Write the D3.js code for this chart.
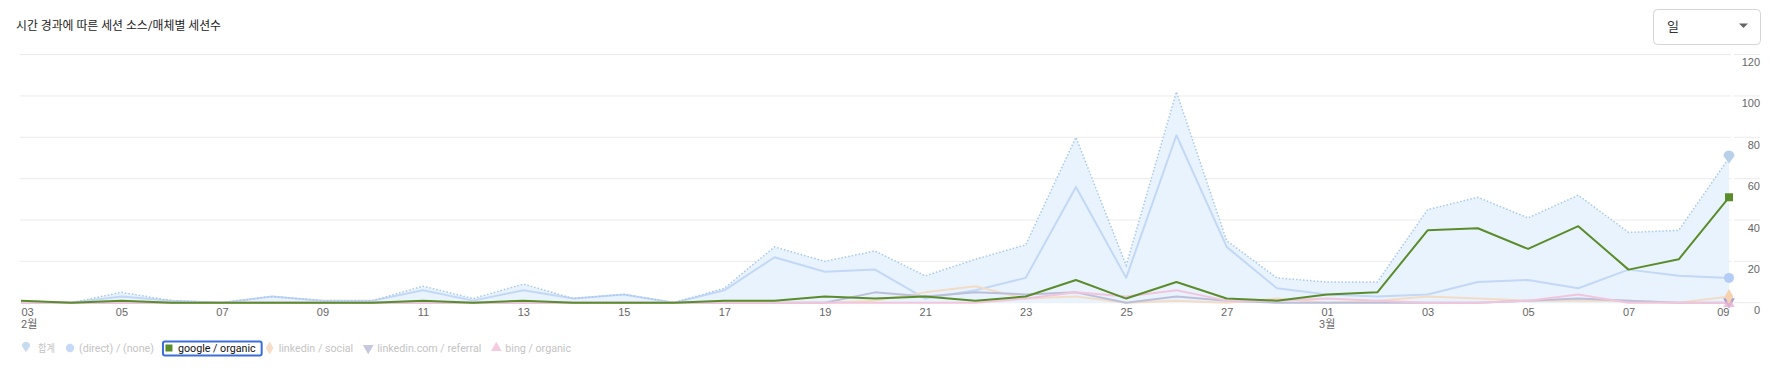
<!DOCTYPE html>
<html>
<head>
<meta charset="utf-8">
<script src="https://d3js.org/d3.v7.min.js"></script>
<style>
  body { margin: 0; background: #fff; }
  svg { display: block; font-family: Roboto, "Noto Sans CJK KR", sans-serif; }
</style>
</head>
<body>
<script>
// dates (Feb 3 - Mar 9)
var days = ["2023-02-03","2023-02-04","2023-02-05","2023-02-06","2023-02-07","2023-02-08","2023-02-09",
  "2023-02-10","2023-02-11","2023-02-12","2023-02-13","2023-02-14","2023-02-15","2023-02-16",
  "2023-02-17","2023-02-18","2023-02-19","2023-02-20","2023-02-21","2023-02-22","2023-02-23",
  "2023-02-24","2023-02-25","2023-02-26","2023-02-27","2023-02-28","2023-03-01","2023-03-02",
  "2023-03-03","2023-03-04","2023-03-05","2023-03-06","2023-03-07","2023-03-08","2023-03-09"];

// sessions per day
var total    = [1,0,5,1,0,3,1,1,8,2,9,2,4,0,7,27,20,25,13,21,28,80,18,102,30,12,10,10,45,51,41,52,34,35,70];
var direct   = [0,0,3,1,0,3,1,1,6,1,6,2,4,0,6,22,15,16,2,6,12,56,12,81,27,7,4,3,4,10,11,7,16,13,12];
var google   = [1,0,1,0,0,0,0,0,1,0,1,0,0,0,1,1,3,2,3,1,3,11,2,10,2,1,4,5,35,36,26,37,16,21,51];
var social   = [0,0,0,0,0,0,0,0,0,0,0,0,0,0,0,0,0,1,5,8,2,3,0,1,0,2,0,1,3,2,1,1,1,0,3];
var referral = [0,0,0,0,0,0,0,0,0,0,0,0,0,0,0,0,0,5,3,5,4,5,0,3,1,0,0,0,0,0,1,2,1,0,0];
var bing     = [0,0,0,0,0,0,0,0,0,0,0,0,0,0,0,0,0,0,0,0,2,5,3,6,1,1,2,1,0,0,1,4,0,0,0];

var yTicks = [0, 20, 40, 60, 80, 100, 120];
var legendNames = ["합계", "(direct) / (none)", "google / organic", "linkedin / social", "linkedin.com / referral", "bing / organic"];

var w = 1779, h = 368;
var parse = d3.timeParse("%Y-%m-%d");
var dates = days.map(parse);

var x = d3.scaleTime()
  .domain([dates[0], dates[dates.length - 1]])
  .range([21, 1729]);

var y = d3.scaleLinear()
  .domain([0, 120])
  .range([302.7, 54.6]);

var svg = d3.select("body").append("svg")
  .attr("width", w)
  .attr("height", h);

// title
svg.append("text")
  .attr("x", 16)
  .attr("y", 30)
  .attr("font-size", 12)
  .attr("fill", "#222")
  .attr("textLength", 205)
  .attr("lengthAdjust", "spacingAndGlyphs")
  .text("시간 경과에 따른 세션 소스/매체별 세션수");

// dropdown
var dd = svg.append("g");
dd.append("rect")
  .attr("x", 1653.5).attr("y", 9.5)
  .attr("width", 107).attr("height", 35)
  .attr("rx", 4)
  .attr("fill", "#fff")
  .attr("stroke", "#d5d5d5");
dd.append("text")
  .attr("x", 1667).attr("y", 31)
  .attr("font-size", 13)
  .attr("fill", "#333")
  .text("일");
dd.append("path")
  .attr("d", "M1739,23.5 L1748,23.5 L1743.5,28 Z")
  .attr("fill", "#666");

// gridlines
svg.append("g").selectAll("line")
  .data(yTicks)
  .enter().append("line")
    .attr("x1", 20).attr("x2", 1731)
    .attr("y1", function(d) { return y(d); })
    .attr("y2", function(d) { return y(d); })
    .attr("stroke", "#ebebeb");
svg.append("g").selectAll("line")
  .data(yTicks)
  .enter().append("line")
    .attr("x1", 1734).attr("x2", 1760)
    .attr("y1", function(d) { return y(d); })
    .attr("y2", function(d) { return y(d); })
    .attr("stroke", "#ebebeb");

// y axis on right
var yAxis = svg.append("g")
  .attr("transform", "translate(1760,0)")
  .call(d3.axisRight(y).tickValues(yTicks).tickSize(0));
yAxis.select(".domain").remove();
yAxis.selectAll("text")
  .attr("x", 0)
  .attr("y", 7.5)
  .attr("text-anchor", "end")
  .attr("font-family", null)
  .attr("font-size", 11)
  .attr("fill", "#666");

// x axis
var tickDates = dates.filter(function(d, i) { return i % 2 === 0; });
var xAxis = svg.append("g")
  .attr("transform", "translate(0," + y(0) + ")")
  .call(d3.axisBottom(x).tickValues(tickDates).tickFormat(d3.timeFormat("%d")).tickSize(0).tickPadding(6));
xAxis.select(".domain").remove();
xAxis.selectAll("text")
  .attr("font-family", null)
  .attr("font-size", 11)
  .attr("fill", "#666")
  .attr("text-anchor", function(d, i) {
    if (i === 0) return "start";
    if (i === tickDates.length - 1) return "end";
    return "middle";
  });

// month labels under first tick and month start
var monthDates = tickDates.filter(function(d, i) { return i === 0 || d.getDate() === 1; });
svg.append("g").selectAll("text")
  .data(monthDates)
  .enter().append("text")
    .attr("x", function(d) { return x(d); })
    .attr("y", 328)
    .attr("font-size", 11)
    .attr("fill", "#666")
    .attr("text-anchor", function(d, i) { return i === 0 ? "start" : "middle"; })
    .text(function(d) { return (d.getMonth() + 1) + "월"; });

// total area + dotted line
var area = d3.area()
  .x(function(d, i) { return x(dates[i]); })
  .y0(y(0))
  .y1(function(d) { return y(d); });
var line = d3.line()
  .x(function(d, i) { return x(dates[i]); })
  .y(function(d) { return y(d); });

svg.append("path")
  .datum(total)
  .attr("d", area)
  .attr("fill", "#e9f3fd");

var faded = [
  { data: direct,   color: "#c3d7f6" },
  { data: social,   color: "#f3dcc6" },
  { data: referral, color: "#bcbfd9" },
  { data: bing,     color: "#f1c6dd" }
];
svg.append("g").selectAll("path")
  .data(faded)
  .enter().append("path")
    .attr("d", function(d) { return line(d.data); })
    .attr("fill", "none")
    .attr("stroke", function(d) { return d.color; })
    .attr("stroke-width", 2)
    .attr("stroke-linejoin", "round");

svg.append("path")
  .datum(total)
  .attr("d", line)
  .attr("fill", "none")
  .attr("stroke", "#a9c8ea")
  .attr("stroke-width", 1.5)
  .attr("stroke-dasharray", "1.5,2");

svg.append("path")
  .datum(google)
  .attr("d", line)
  .attr("fill", "none")
  .attr("stroke", "#5b8c2c")
  .attr("stroke-width", 2)
  .attr("stroke-linejoin", "round");

// markers at last point
var last = dates.length - 1;
var lx = x(dates[last]);
function pin(cx, cy, r) {
  return "M" + (cx - r) + "," + (cy - 2) + " A" + r + "," + r + " 0 1 1 " + (cx + r) + "," + (cy - 2) +
    " L" + cx + "," + (cy + r) + " Z";
}
var mk = svg.append("g");
mk.append("path")
  .attr("d", d3.symbol(d3.symbolTriangle, 60)())
  .attr("transform", "translate(" + lx + "," + (y(referral[last]) - 1) + ") rotate(180)")
  .attr("fill", "#a99cd0");
mk.append("path")
  .attr("d", d3.symbol(d3.symbolTriangle, 60)())
  .attr("transform", "translate(" + lx + "," + (y(bing[last]) + 1) + ")")
  .attr("fill", "#eab4d2")
  .attr("opacity", 0.8);
mk.append("path")
  .attr("d", d3.symbol(d3.symbolDiamond, 64)())
  .attr("transform", "translate(" + lx + "," + y(social[last]) + ")")
  .attr("fill", "#f5d2b0");
mk.append("circle")
  .attr("cx", lx).attr("cy", y(direct[last])).attr("r", 5)
  .attr("fill", "#b5cdf6");
mk.append("rect")
  .attr("x", lx - 4).attr("y", y(google[last]) - 4)
  .attr("width", 8).attr("height", 8)
  .attr("fill", "#5b8c2c");
mk.append("path")
  .attr("d", pin(lx, y(total[last]), 5.5))
  .attr("fill", "#b8d0e8");

// legend
var legendIcons = [
  function(g) { g.append("path").attr("d", pin(0, 0, 4.2)).attr("fill", "#c8dcef"); },
  function(g) { g.append("circle").attr("r", 4.2).attr("fill", "#c8d9f7"); },
  function(g) { g.append("rect").attr("x", -3.5).attr("y", -3.5).attr("width", 7).attr("height", 7).attr("fill", "#5b8c2c"); },
  function(g) { g.append("path").attr("d", d3.symbol(d3.symbolDiamond, 50)()).attr("fill", "#f8ddc6"); },
  function(g) { g.append("path").attr("d", d3.symbol(d3.symbolTriangle, 50)()).attr("transform", "rotate(180)").attr("fill", "#c6c8dd"); },
  function(g) { g.append("path").attr("d", d3.symbol(d3.symbolTriangle, 50)()).attr("fill", "#f6cbe0"); }
];
var lg = svg.append("g").attr("transform", "translate(0,348)");
var cx = 26;
legendNames.forEach(function(name, i) {
  var item = lg.append("g");
  var icon = item.append("g").attr("transform", "translate(" + cx + ",0)");
  legendIcons[i](icon);
  var t = item.append("text")
    .attr("x", cx + (i === 0 ? 12 : 9))
    .attr("y", 4)
    .attr("font-size", 10.7)
    .attr("fill", i === 2 ? "#111" : "#c4c4c4")
    .text(name);
  if (i === 0) t.attr("textLength", 17).attr("lengthAdjust", "spacingAndGlyphs");
  var tw = t.node().getComputedTextLength();
  if (i === 2) {
    item.insert("rect", ":first-child")
      .attr("x", cx - 6).attr("y", -6.5)
      .attr("width", tw + 21).attr("height", 14)
      .attr("rx", 2)
      .attr("fill", "#fff")
      .attr("stroke", "#3b6fd6")
      .attr("stroke-width", 2);
  }
  cx = cx + (i === 0 ? 12 : 9) + tw + (i === 2 ? 14 : 15);
});
</script>
</body>
</html>
